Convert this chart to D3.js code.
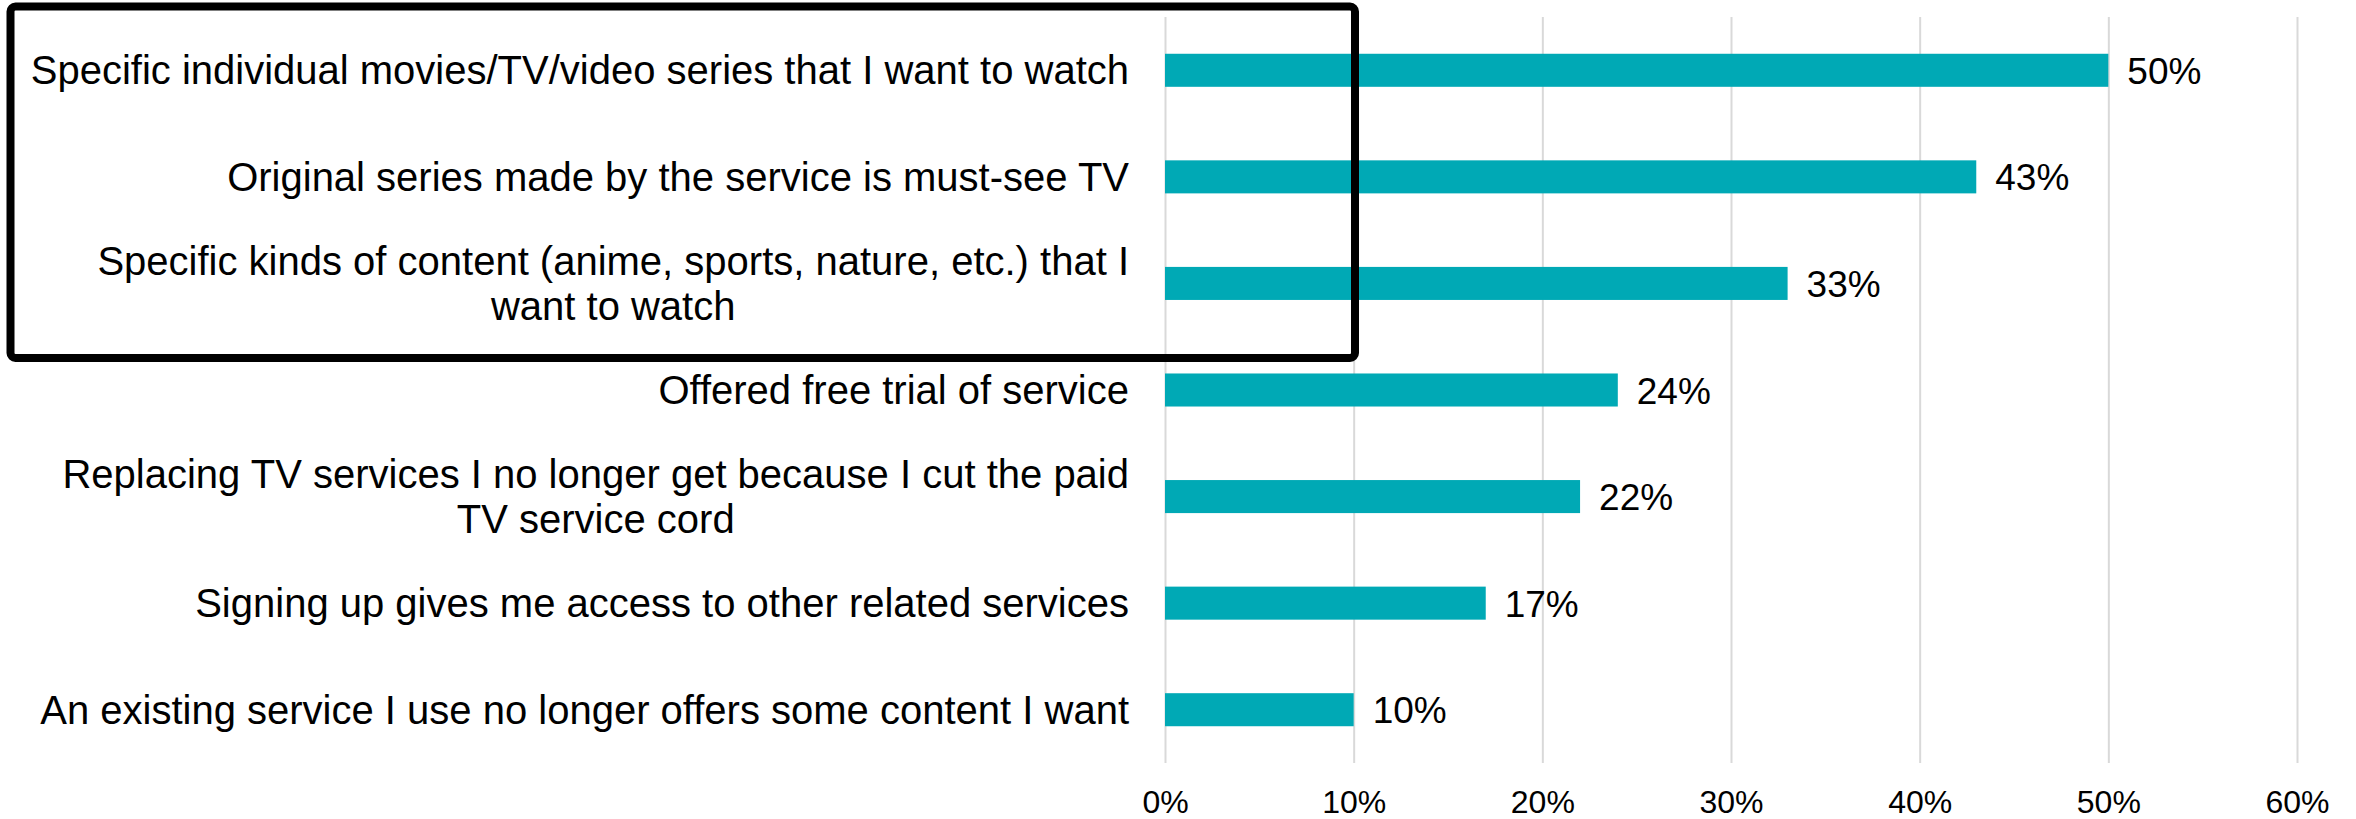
<!DOCTYPE html>
<html>
<head>
<meta charset="utf-8">
<script src="https://cdn.jsdelivr.net/npm/d3@7"></script>
<style>
  html, body { margin: 0; padding: 0; background: #ffffff; }
  svg { display: block; }
  text { font-family: "Liberation Sans", Arial, sans-serif; fill: #000000; }
</style>
</head>
<body>
<svg id="chart" width="2356" height="819"></svg>
<script>
// Reasons for signing up to a streaming service (share of respondents)
const categories = [
  "Specific individual movies/TV/video series that I want to watch",
  "Original series made by the service is must-see TV",
  "Specific kinds of content (anime, sports, nature, etc.) that I\nwant to watch",
  "Offered free trial of service",
  "Replacing TV services I no longer get because I cut the paid\nTV service cord",
  "Signing up gives me access to other related services",
  "An existing service I use no longer offers some content I want"
];
const values = [50, 43, 33, 24, 22, 17, 10];
const tickValues = [0, 10, 20, 30, 40, 50, 60];

const svg = d3.select("#chart");
const plot = { left: 1165, right: 2297, top: 17, bottom: 763 };
const barColor = "#00A9B5";

const x = d3.scaleLinear().domain([0, 60]).range([plot.left, plot.right]);
const y = d3.scaleBand().domain(d3.range(categories.length))
  .range([plot.top, plot.bottom]).paddingInner(0.69).paddingOuter(0.345);

// Vertical gridlines and bottom tick labels
const xAxis = d3.axisBottom(x).tickValues(tickValues)
  .tickSize(plot.bottom - plot.top).tickFormat(d => d + "%");
const gx = svg.append("g").attr("transform", `translate(0,${plot.top})`).call(xAxis);
gx.select(".domain").remove();
gx.selectAll(".tick line").attr("stroke", "#d9d9d9").attr("stroke-width", 2);
gx.selectAll(".tick text")
  .attr("y", 0).attr("dy", null)
  .attr("transform", `translate(0,${813 - plot.top})`)
  .attr("font-size", 32).attr("fill", "#000");

// Bars
svg.append("g").selectAll("rect").data(values).join("rect")
  .attr("x", x(0))
  .attr("y", (d, i) => y(i))
  .attr("width", d => x(d) - x(0))
  .attr("height", y.bandwidth())
  .attr("fill", barColor);

// Value labels
svg.append("g").selectAll("text").data(values).join("text")
  .attr("x", d => x(d) + 19)
  .attr("y", (d, i) => y(i) + y.bandwidth() / 2 + 13.5)
  .attr("font-size", 37)
  .text(d => d + "%");

// Category labels: lines centred on each other, block right-aligned to the axis
const labelRight = 1129;
const lineGap = 45;
const lg = svg.append("g");
categories.forEach((c, i) => {
  const lines = c.split("\n");
  const cy = y(i) + y.bandwidth() / 2;
  const t = lg.append("text").attr("font-size", 40).attr("text-anchor", "middle");
  const spans = lines.map((ln, k) => t.append("tspan")
    .attr("y", cy + 14 + (k - (lines.length - 1) / 2) * lineGap)
    .text(ln));
  const maxW = d3.max(spans, s => s.node().getComputedTextLength());
  spans.forEach(s => s.attr("x", labelRight - maxW / 2));
});

// Highlight frame around the first three reasons
svg.append("rect")
  .attr("x", 10.5).attr("y", 6.5)
  .attr("width", 1355 - 10.5)
  .attr("height", 358 - 6.5)
  .attr("rx", 5)
  .attr("fill", "none")
  .attr("stroke", "#000")
  .attr("stroke-width", 8);
</script>
</body>
</html>
